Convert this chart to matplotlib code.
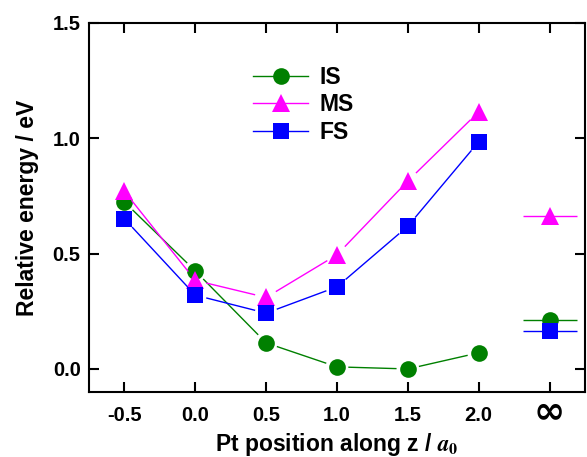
import matplotlib.pyplot as plt
import matplotlib.transforms as mtransforms
import numpy as np

# Relative energies (eV) vs Pt position along z (units of a0); last point is z = infinity
z_pos = [-0.5, 0.0, 0.5, 1.0, 1.5, 2.0]
z_inf = 2.5
tick_labels = ['-0.5', '0.0', '0.5', '1.0', '1.5', '2.0']
inf_label = '\u221e'

is_vals = [0.724, 0.425, 0.113, 0.009, 0.0, 0.07]
ms_vals = [0.77, 0.384, 0.31, 0.495, 0.815, 1.115]
fs_vals = [0.651, 0.32, 0.242, 0.356, 0.619, 0.985]

is_inf = 0.214
ms_inf = 0.665
fs_inf = 0.165

plt.rcParams['font.family'] = ['Liberation Sans', 'DejaVu Sans']
plt.rcParams['font.weight'] = 'bold'
plt.rcParams['mathtext.fontset'] = 'stix'

fig = plt.figure(figsize=(5.87, 4.57), dpi=100)
ax = fig.add_axes([0.1516, 0.1422, 0.845, 0.8075])
ax.set_xlim(-0.75, 2.75)
ax.set_ylim(-0.1, 1.5)

series = [
    ('IS', is_vals, is_inf, '#008000', 'o', 12),
    ('MS', ms_vals, ms_inf, '#ff00ff', '^', 13),
    ('FS', fs_vals, fs_inf, '#0000ff', 's', 11),
]

gap = 12  # px between marker centre and line end (Origin style)
inv = ax.transData.inverted()
for name, vals, inf_val, color, marker, ms in series:
    pts = ax.transData.transform(np.column_stack([z_pos, vals]))
    for p0, p1 in zip(pts[:-1], pts[1:]):
        d = p1 - p0
        L = np.hypot(*d)
        if L <= 2 * gap:
            continue
        u = d / L
        seg = inv.transform([p0 + u * gap, p1 - u * gap])
        ax.plot(seg[:, 0], seg[:, 1], '-', color=color, linewidth=1)
    ax.plot(z_pos, vals, linestyle='none', color=color, marker=marker,
            markersize=ms, markeredgewidth=0)
    # legend handle
    ax.plot([], [], '-', color=color, linewidth=1, marker=marker,
            markersize=ms, markeredgewidth=0, label=name)
    # value at infinity: short line through the marker
    ax.hlines(inf_val, z_inf - 0.19, z_inf + 0.19, color=color, linewidth=1)
    ax.plot([z_inf], [inf_val], marker=marker, color=color, markersize=ms,
            markeredgewidth=0, linestyle='none')

ax.set_xticks(z_pos + [z_inf])
ax.set_xticklabels(tick_labels + [''])
ax.set_yticks([0.0, 0.5, 1.0, 1.5])
ax.set_yticklabels(['0.0', '0.5', '1.0', '1.5'])

ax.tick_params(direction='in', length=7, width=1.5, top=True, right=True,
               labelsize=14.5)
ax.tick_params(axis='x', pad=10)
ax.tick_params(axis='y', pad=6)
for sp in ax.spines.values():
    sp.set_linewidth(1.5)

# infinity tick label
trans = mtransforms.blended_transform_factory(ax.transData, ax.transAxes)
ax.text(z_inf, -0.055, inf_label, transform=trans, ha='center', va='center',
        fontsize=27, fontfamily='DejaVu Sans', fontweight='bold')

ax.set_xlabel(r'Pt position along z / $a_0$', fontsize=16.5, fontweight='bold',
              labelpad=4.5)
ax.set_ylabel('Relative energy / eV', fontsize=16.5, fontweight='bold',
              labelpad=10)

ax.legend(loc='upper left', bbox_to_anchor=(0.29, 0.94), frameon=False,
          fontsize=16.5, handlelength=2.4, handletextpad=0.5, labelspacing=0.2)

fig.savefig('out.png', dpi=100)
